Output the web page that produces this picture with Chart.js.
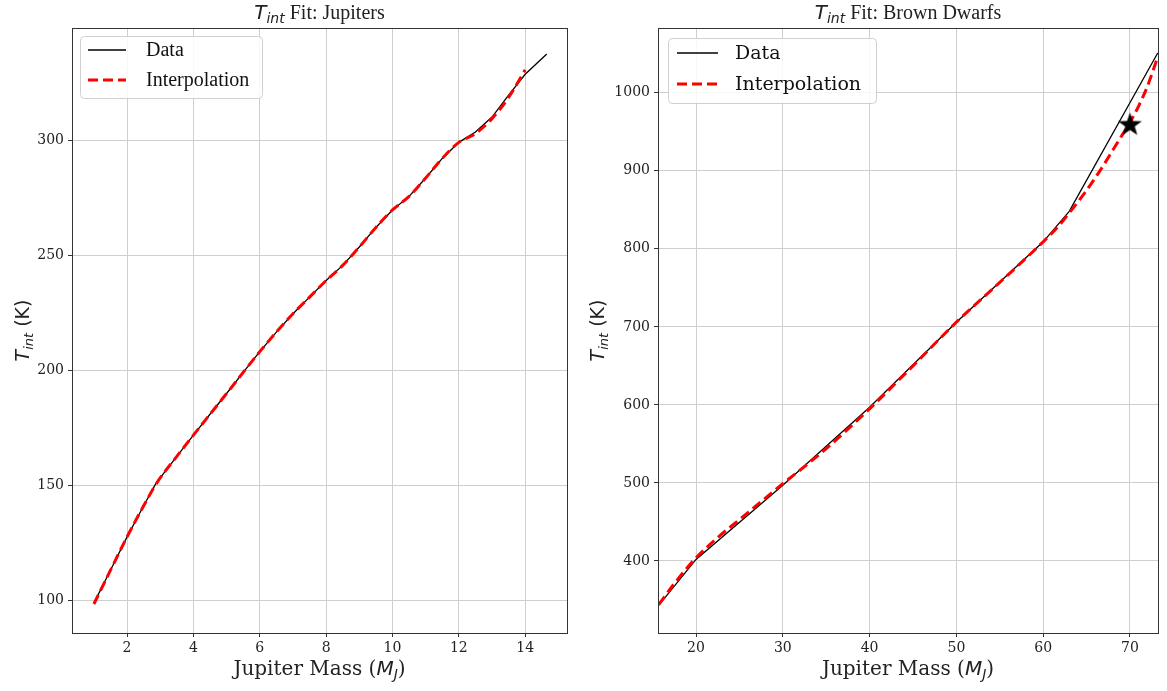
<!DOCTYPE html>
<html>
<head>
<meta charset="utf-8">
<script src="https://cdn.jsdelivr.net/npm/chart.js@4.4.1/dist/chart.umd.min.js"></script>
<style>
html,body{margin:0;padding:0;background:#fff;}
#wrap{position:relative;width:1167px;height:691px;overflow:hidden;}
canvas{position:absolute;top:0;}
#c1{left:0;}
#c2{left:583px;}
</style>
</head>
<body>
<div id="wrap">
<canvas id="c1" width="583" height="691"></canvas>
<canvas id="c2" width="584" height="691"></canvas>
</div>
<script>
// ---------- data ----------
const jupMass = [1.0,1.5,2.0,2.5,2.87,3.5,4.0,4.5,5.0,5.5,6.0,6.5,7.0,7.5,8.0,8.5,9.0,9.5,10.0,10.5,11.0,11.5,12.0,12.5,13.0,13.5,14.0,14.65];
const jupData = [98.7,113,127.5,141,150.7,162.5,171.7,180.8,189.8,199,208,216.5,224.5,231.7,238.9,245.5,253.5,262,269.6,275.5,283.5,292,299,303.5,310,319.5,328.6,337.4];
const jupInterpMass = [1.0,1.5,2.0,2.5,2.9,3.5,4.0,4.5,5.0,5.5,6.0,6.5,7.0,7.5,8.0,8.5,9.0,9.5,10.0,10.5,11.0,11.5,12.0,12.5,13.0,13.5,14.0];
const jupInterp = [98.3,113,127.5,141,151,162.5,171.7,180.8,189.8,199,208,216.5,224.5,231.7,238.9,245.5,253.5,262,269.6,275.5,283.5,292,299,302.8,309.3,318.5,330.5];

const bdMass = [15.7,20,30,40,50,60,63,73.2];
const bdData = [343,402,497,597,706,809,848,1051];
const bdInterpMass = [15.7,17.5,20,22.5,25,27.5,30,32.5,35,37.5,40,45,50,55,60,62,63,64,65,66,67,68,69,70,71,72,73.2];
const bdInterp = [344,371,404,430,453,476,499,521,544,569,595,650,706,757,809,832,846,860,875,891,908,926,944,962,983,1008,1046];
const starMass = [70];
const starT = [960];

const jupXTicks = [2,4,6,8,10,12,14];
const jupYTicks = [100,150,200,250,300];
const bdXTicks = [20,30,40,50,60,70];
const bdYTicks = [400,500,600,700,800,900,1000];

const seriesNames = ['Data','Interpolation'];
// ---------------------------------------------------

const pts = (xs, ys) => xs.map((x, i) => ({x: x, y: ys[i]}));

function starImage(r) {
  const c = document.createElement('canvas');
  const s = Math.ceil(r * 2 + 4);
  c.width = s; c.height = s;
  const g = c.getContext('2d');
  g.translate(s / 2, s / 2 + r * 0.08);
  g.beginPath();
  for (let i = 0; i < 10; i++) {
    const rad = i % 2 === 0 ? r : r * 0.4;
    const a = -Math.PI / 2 + i * Math.PI / 5;
    const px = rad * Math.cos(a), py = rad * Math.sin(a);
    if (i === 0) g.moveTo(px, py); else g.lineTo(px, py);
  }
  g.closePath();
  g.fillStyle = '#000';
  g.fill();
  return c;
}

function drawRich(ctx, parts, x, y, align) {
  let w = 0;
  parts.forEach(p => { ctx.font = p.f; p.w = ctx.measureText(p.t).width; w += p.w; });
  let cx = align === 'center' ? x - w / 2 : x;
  ctx.textBaseline = 'alphabetic';
  ctx.textAlign = 'left';
  parts.forEach(p => {
    ctx.font = p.f;
    ctx.fillText(p.t, cx, y + (p.dy || 0));
    cx += p.w;
  });
}

function makeDecor(cfg) {
  return {
    id: 'decor',
    afterDraw(chart) {
      const ctx = chart.ctx;
      const a = chart.chartArea;
      ctx.save();
      // frame
      ctx.strokeStyle = '#333';
      ctx.lineWidth = 1;
      ctx.strokeRect(Math.round(a.left) + 0.5, Math.round(a.top) + 0.5, Math.round(a.right - a.left), Math.round(a.bottom - a.top));
      ctx.fillStyle = '#222';
      // title
      const cxm = (a.left + a.right) / 2;
      drawRich(ctx, [
        {t: 'T', f: 'italic 20px "DejaVu Sans"'},
        {t: 'int', f: 'italic 14px "DejaVu Sans"', dy: 4},
        {t: ' ' + cfg.title, f: '20px "Liberation Serif"'}
      ], cxm, 19, 'center');
      // x label
      drawRich(ctx, [
        {t: 'Jupiter Mass (', f: '20px "DejaVu Serif"'},
        {t: 'M', f: 'italic 20px "DejaVu Sans"'},
        {t: 'J', f: 'italic 14px "DejaVu Sans"', dy: 4},
        {t: ')', f: '20px "DejaVu Serif"'}
      ], cxm, 675, 'center');
      // y label
      ctx.save();
      ctx.translate(cfg.ylabX, (a.top + a.bottom) / 2);
      ctx.rotate(-Math.PI / 2);
      drawRich(ctx, [
        {t: 'T', f: 'italic 19px "DejaVu Sans"'},
        {t: 'int', f: 'italic 13px "DejaVu Sans"', dy: 4},
        {t: ' (K)', f: '19px "DejaVu Sans"'}
      ], 0, 0, 'center');
      ctx.restore();
      // legend
      const L = cfg.legend;
      ctx.beginPath();
      if (ctx.roundRect) ctx.roundRect(L.x + 0.5, L.y + 0.5, L.w, L.h, 4); else ctx.rect(L.x + 0.5, L.y + 0.5, L.w, L.h);
      ctx.fillStyle = 'rgba(255,255,255,0.85)';
      ctx.fill();
      ctx.strokeStyle = '#d0d0d0';
      ctx.lineWidth = 1;
      ctx.stroke();
      const ds = chart.data.datasets;
      const items = [ds[2], ds[1]];
      items.forEach((d, i) => {
        const yy = L.y + L.rows[i];
        ctx.beginPath();
        ctx.setLineDash(d.borderDash || []);
        ctx.strokeStyle = d.borderColor;
        ctx.lineWidth = d.borderWidth;
        ctx.moveTo(L.x + L.lx0, yy);
        ctx.lineTo(L.x + L.lx1, yy);
        ctx.stroke();
        ctx.setLineDash([]);
        ctx.fillStyle = '#111';
        ctx.font = L.font;
        ctx.textAlign = 'left';
        ctx.textBaseline = 'middle';
        ctx.fillText(d.label, L.x + L.tx, yy + 1);
      });
      ctx.restore();
    }
  };
}

function scaleOpts(min, max, ticks, isY, fitSize) {
  return {
    type: 'linear',
    min: min, max: max,
    afterBuildTicks: s => { s.ticks = ticks.map(v => ({value: v})); },
    afterFit: s => {
      if (isY) s.width = fitSize; else s.height = fitSize;
      s.paddingLeft = 0; s.paddingRight = 0; s.paddingTop = 0; s.paddingBottom = 0;
    },
    grid: {color: '#cfcfcf', lineWidth: 1, tickColor: '#333', tickLength: 4, drawTicks: true},
    border: {display: false},
    ticks: {color: '#222', font: {family: 'DejaVu Serif', size: 14}, padding: isY ? 4 : 3,
            callback: v => String(v), maxRotation: 0, autoSkip: false}
  };
}

function makeChart(id, o) {
  const datasets = [];
  datasets.push(o.star ? {
    label: 'star', data: pts(o.star[0], o.star[1]), showLine: false,
    pointStyle: starImage(12.5), pointRadius: 12, borderColor: '#000', backgroundColor: '#000'
  } : {label: 'none', data: [], showLine: false});
  datasets.push({label: seriesNames[1], data: pts(o.ix, o.iy), borderColor: '#ff0000', borderWidth: 3,
    borderDash: [10, 5], pointRadius: 0, cubicInterpolationMode: 'monotone', fill: false});
  datasets.push({label: seriesNames[0], data: pts(o.dx, o.dy), borderColor: '#000000', borderWidth: 1.3,
    pointRadius: 0, tension: 0, fill: false});
  return new Chart(document.getElementById(id), {
    type: 'line',
    data: {datasets: datasets},
    options: {
      responsive: false, animation: false, devicePixelRatio: 1,
      layout: {autoPadding: false, padding: {left: 0, right: o.padR, top: 28, bottom: 0}},
      plugins: {legend: {display: false}, title: {display: false}, tooltip: {enabled: false}},
      scales: {
        x: Object.assign(scaleOpts(o.xr[0], o.xr[1], o.xt, false, 58), {position: 'bottom'}),
        y: Object.assign(scaleOpts(o.yr[0], o.yr[1], o.yt, true, o.yw), {position: 'left'})
      }
    },
    plugins: [makeDecor(o.decor)]
  });
}

makeChart('c1', {
  dx: jupMass, dy: jupData, ix: jupInterpMass, iy: jupInterp,
  xr: [0.34, 15.26], yr: [85.7, 348.7], xt: jupXTicks, yt: jupYTicks, yw: 72, padR: 16,
  decor: {title: 'Fit: Jupiters', ylabX: 29,
    legend: {x: 80, y: 36, w: 182, h: 62, lx0: 8, lx1: 46, tx: 66, rows: [14, 44], font: '20px "Liberation Serif"'}}
});
makeChart('c2', {
  dx: bdMass, dy: bdData, ix: bdInterpMass, iy: bdInterp, star: [starMass, starT],
  xr: [15.62, 73.23], yr: [307.7, 1083], xt: bdXTicks, yt: bdYTicks, yw: 75, padR: 9,
  decor: {title: 'Fit: Brown Dwarfs', ylabX: 21,
    legend: {x: 85, y: 38, w: 208, h: 65, lx0: 9, lx1: 50, tx: 67, rows: [15, 46], font: '19px "DejaVu Serif"'}}
});
</script>
</body>
</html>
